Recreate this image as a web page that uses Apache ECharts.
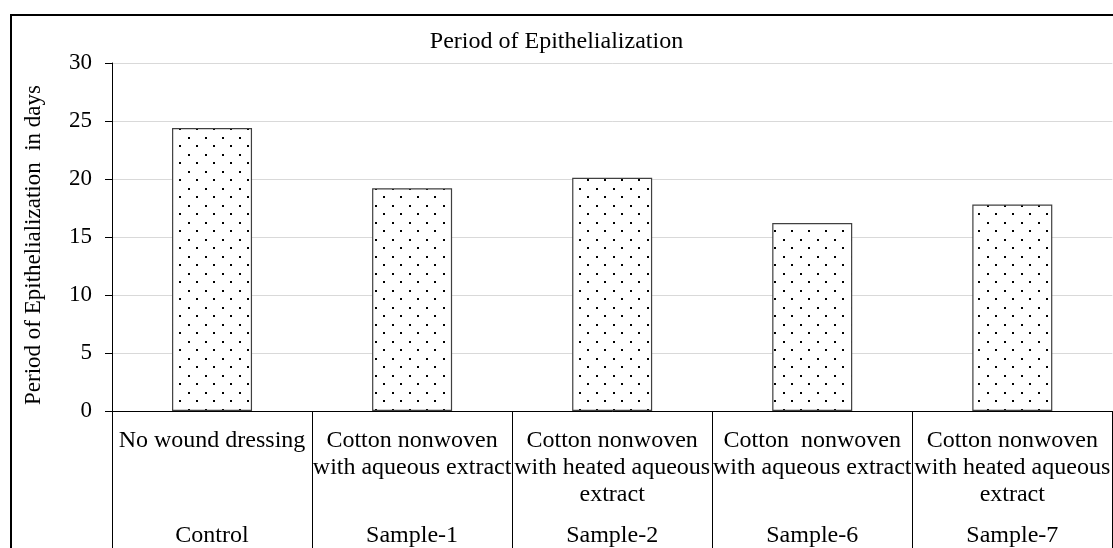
<!DOCTYPE html>
<html>
<head>
<meta charset="utf-8">
<script src="https://cdn.jsdelivr.net/npm/echarts@6/dist/echarts.min.js"></script>
<style>
html,body{margin:0;padding:0;background:#fff;}
#chart{width:1113px;height:548px;}
</style>
</head>
<body>
<div id="chart"></div>
<script>
const categories = ['Control', 'Sample-1', 'Sample-2', 'Sample-6', 'Sample-7'];
const descriptions = [
  'No wound dressing',
  'Cotton nonwoven\nwith aqueous extract',
  'Cotton nonwoven\nwith heated aqueous\nextract',
  'Cotton  nonwoven\nwith aqueous extract',
  'Cotton nonwoven\nwith heated aqueous\nextract'
];
const values = [24.4, 19.2, 20.1, 16.2, 17.8];
const yMin = 0, yMax = 30, yInterval = 5;
const titleText = 'Period of Epithelialization';
const yAxisName = 'Period of Epithelialization  in days';

const FONT = '"Liberation Serif", "Times New Roman", serif';

// dotted pattern
const pc = document.createElement('canvas');
pc.width = 17; pc.height = 17;
const ctx = pc.getContext('2d');
ctx.fillStyle = '#fff';
ctx.fillRect(0, 0, 17, 17);
ctx.fillStyle = '#000';
ctx.fillRect(1, 1, 2, 2);
ctx.fillRect(9, 9, 2, 2);

const chart = echarts.init(document.getElementById('chart'), null, {renderer: 'canvas'});
chart.setOption({
  animation: false,
  backgroundColor: '#fff',
  title: {
    text: titleText,
    left: 'center',
    top: 25,
    textStyle: {fontFamily: FONT, fontSize: 24, fontWeight: 'normal', color: '#000'}
  },
  grid: {left: 112, right: -2, top: 63, bottom: 136},
  xAxis: {
    type: 'category',
    data: categories,
    axisLine: {show: true, lineStyle: {color: '#000', width: 1}},
    axisTick: {show: true, length: 140, interval: 0, alignWithLabel: false, lineStyle: {color: '#000', width: 1}},
    axisLabel: {
      interval: 0,
      margin: 16,
      formatter: function (value, idx) {
        const lines = descriptions[idx].split('\n');
        while (lines.length < 3) lines.push(' ');
        return lines.map(l => '{d|' + l + '}').join('\n') + '\n{s|' + value + '}';
      },
      rich: {
        d: {fontFamily: FONT, fontSize: 24, lineHeight: 27, color: '#000'},
        s: {fontFamily: FONT, fontSize: 24, lineHeight: 56, color: '#000'}
      }
    }
  },
  yAxis: {
    type: 'value',
    min: yMin,
    max: yMax,
    interval: yInterval,
    name: yAxisName,
    nameLocation: 'middle',
    nameGap: 67,
    nameTextStyle: {fontFamily: FONT, fontSize: 23, color: '#000', padding: [0, 16, 0, 0]},
    axisLine: {show: true, lineStyle: {color: '#000', width: 1}},
    axisTick: {show: true, length: 7, lineStyle: {color: '#000'}},
    axisLabel: {margin: 20, fontFamily: FONT, fontSize: 23, color: '#000'},
    splitLine: {show: true, lineStyle: {color: '#d9d9d9', width: 1}}
  },
  series: [{
    type: 'bar',
    data: values,
    barWidth: 80,
    itemStyle: {
      color: {image: pc, repeat: 'repeat'},
      borderColor: '#404040',
      borderWidth: 1.2
    }
  }],
  graphic: [{
    type: 'rect',
    shape: {x: 11, y: 15, width: 1300, height: 700},
    style: {fill: 'none', stroke: '#000', lineWidth: 2},
    silent: true,
    z: 100
  }]
});
</script>
</body>
</html>
